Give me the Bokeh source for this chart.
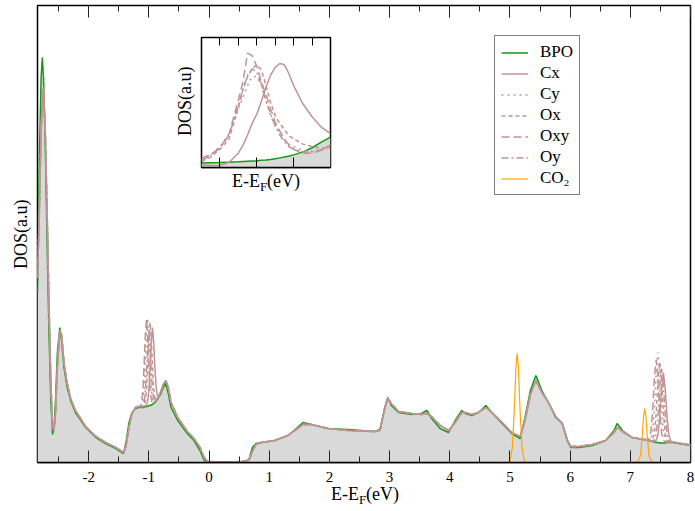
from bokeh.plotting import figure
from bokeh.models import (LinearAxis, SingleIntervalTicker, FixedTicker, Legend, LegendItem,
                          Range1d, GridBox, Div, CustomJSTickFormatter)
from bokeh.embed import file_html
from bokeh.resources import INLINE

# ---------------- main panel data (energy in eV, DOS in arbitrary units) ----------------
seg_a = [-2.85, -2.82, -2.79, -2.77, -2.75, -2.72, -2.69, -2.66, -2.63, -2.60, -2.575, -2.55,
         -2.52, -2.48, -2.45, -2.41, -2.36, -2.30, -2.22, -2.05, -1.88, -1.72, -1.55, -1.42,
         -1.38, -1.33, -1.28, -1.22, -1.18]
seg_b = [-1.14, -1.12, -1.10, -1.08, -1.06, -1.04, -1.02, -1.00, -0.98, -0.96, -0.94, -0.92,
         -0.90, -0.88, -0.86, -0.84]
seg_c = [-0.80, -0.76, -0.72, -0.68, -0.63, -0.52, -0.36, -0.25, -0.15, -0.08, -0.03, 0.30,
         0.55, 0.62, 0.67, 0.72, 0.78, 0.87, 1.09, 1.31, 1.45, 1.56, 1.70, 1.98, 2.31, 2.75,
         2.84, 2.92, 2.97, 3.03, 3.15, 3.37, 3.53, 3.62, 3.70, 3.84, 3.98, 4.09, 4.20, 4.26,
         4.37, 4.48, 4.60, 4.70, 4.87, 5.03, 5.17, 5.25, 5.34, 5.43, 5.53, 5.64, 5.76, 5.87,
         5.95, 6.01, 6.15, 6.37, 6.59, 6.73, 6.78, 6.87, 7.03, 7.22]
seg_d = [7.31, 7.34, 7.37, 7.40, 7.43, 7.46, 7.49, 7.52, 7.55, 7.58, 7.61, 7.64, 7.67, 7.70]
seg_e = [7.80, 8.00]

bpo_a = [17.0, 30.0, 38.5, 40.5, 38.5, 31.5, 22.0, 13.2, 6.5, 2.8, 3.6, 6.3, 11.0, 13.5, 12.2,
         9.5, 7.6, 6.2, 5.0, 3.5, 2.5, 1.9, 1.4, 0.9, 2.0, 4.0, 5.0, 5.4, 5.5]
bpo_b = [5.5, 5.5, 5.5, 5.5, 5.6, 5.6, 5.6, 5.7, 5.7, 5.75, 5.8, 5.9, 6.0, 6.15, 6.3, 6.5]
bpo_c = [6.9, 7.5, 7.9, 7.0, 5.5, 4.2, 2.9, 2.2, 1.2, 0.2, 0.0, 0.0, 0.05, 0.15, 0.4, 1.5, 1.9,
         2.0, 2.2, 2.7, 3.4, 4.0, 3.8, 3.4, 3.3, 3.1, 3.3, 5.5, 6.5, 5.7, 5.0, 4.8, 4.9, 5.2,
         4.4, 3.4, 3.0, 4.2, 5.2, 4.9, 4.7, 5.0, 5.7, 5.0, 3.9, 2.9, 2.4, 4.5, 7.2, 8.7, 7.2,
         6.0, 4.5, 3.9, 2.2, 1.5, 1.5, 1.7, 2.2, 3.2, 3.9, 3.2, 2.5, 2.3]
bpo_d = [2.2, 2.15, 2.1, 2.05, 2.0, 2.0, 1.95, 1.95, 1.95, 1.95, 2.0, 2.0, 2.0, 2.0]
bpo_e = [1.9, 1.7]

# projected curves share the same shape away from the two sharp features
brown_a = [18.5, 25.0, 33.0, 36.5, 37.5, 33.0, 25.0, 16.0, 8.5, 3.5, 3.2, 5.0, 9.5, 13.2, 12.8,
           10.0, 8.0, 6.4, 5.2, 3.6, 2.6, 2.0, 1.5, 1.0, 1.6, 3.5, 4.9, 5.5, 5.6]
brown_c = [7.1, 7.8, 8.2, 7.6, 6.0, 4.5, 3.1, 2.4, 1.5, 0.5, 0.1, 0.05, 0.1, 0.2, 0.3, 1.1, 1.8,
           2.0, 2.2, 2.7, 3.3, 3.8, 3.8, 3.4, 3.2, 3.1, 3.2, 5.4, 6.4, 5.9, 5.1, 4.9, 4.8, 4.9,
           4.6, 3.7, 3.2, 4.0, 5.0, 5.0, 4.8, 5.0, 5.5, 5.0, 4.0, 3.0, 2.6, 4.2, 6.8, 8.2, 7.0,
           6.0, 4.6, 3.9, 2.3, 1.6, 1.6, 1.8, 2.2, 3.0, 3.5, 3.1, 2.5, 2.3]
brown_e = [1.95, 1.75]

cx_b = [5.6, 5.6, 5.6, 5.6, 5.7, 5.7, 6.1, 7.2, 9.2, 11.9, 13.5, 12.1, 9.5, 7.6, 6.8, 6.6]
cy_b = [5.6, 5.6, 6.1, 7.1, 9.6, 12.7, 14.4, 12.8, 9.7, 7.4, 6.4, 6.0, 6.1, 6.25, 6.4, 6.6]
ox_b = [5.6, 5.6, 5.6, 5.6, 6.1, 7.1, 9.4, 12.4, 14.0, 12.4, 9.6, 7.4, 6.5, 6.25, 6.4, 6.6]
oxy_b = [5.6, 6.1, 7.1, 9.5, 12.6, 14.3, 12.6, 9.7, 7.3, 6.35, 5.9, 6.0, 6.1, 6.25, 6.4, 6.6]
oy_b = [5.6, 5.6, 5.6, 6.0, 7.0, 9.0, 11.6, 13.2, 11.7, 9.2, 7.2, 6.4, 6.1, 6.25, 6.4, 6.6]

cx_d = [2.2, 2.2, 2.15, 2.15, 2.2, 2.8, 4.6, 7.4, 9.0, 7.35, 4.55, 2.75, 2.15, 2.05]
cy_d = [2.2, 2.3, 3.05, 5.35, 8.95, 11.0, 8.95, 5.3, 3.0, 2.2, 2.05, 2.05, 2.05, 2.05]
ox_d = [2.2, 2.2, 2.3, 2.95, 4.95, 8.2, 10.0, 8.2, 4.95, 2.85, 2.2, 2.05, 2.05, 2.05]
oxy_d = [2.35, 3.0, 5.1, 8.5, 10.3, 8.4, 5.1, 2.9, 2.25, 2.05, 2.05, 2.05, 2.05, 2.05]
oy_d = [2.2, 2.2, 2.15, 2.25, 2.85, 4.7, 7.7, 9.4, 7.7, 4.7, 2.8, 2.15, 2.05, 2.05]

co2_energy = [-2.85, 4.95, 5.00, 5.04, 5.07, 5.10, 5.12, 5.14, 5.17, 5.20, 5.24, 5.30, 7.08,
              7.13, 7.17, 7.20, 7.22, 7.24, 7.26, 7.28, 7.31, 7.35, 7.40, 8.00]
co2_dos = [0.0, 0.0, 0.1, 1.5, 5.0, 9.6, 10.9, 9.6, 5.0, 1.5, 0.1, 0.0, 0.0, 0.1, 0.7, 2.8, 4.6,
           5.4, 4.6, 2.8, 0.7, 0.1, 0.0, 0.0]

tick_labels = {-2: "-2", -1: "-1", 0: "0", 1: "1", 2: "2", 3: "3", 4: "4", 5: "5", 6: "6",
               7: "7", 8: "8"}

# ---------------- inset data ----------------
inset_x = [0.0, 0.5, 1.0, 1.5, 2.0, 2.25, 2.5, 2.75, 3.0, 3.25, 3.5, 3.75, 4.0, 4.25, 4.5, 4.75,
           5.0, 5.5, 6.0, 6.5, 7.0]
inset_bpo = [0.34, 0.36, 0.38, 0.41, 0.44, 0.46, 0.48, 0.5, 0.51, 0.55, 0.58, 0.62, 0.68, 0.74,
             0.8, 0.88, 0.97, 1.2, 1.52, 1.95, 2.33]
inset_cx = [0.2, 0.15, 0.18, 0.4, 1.1, 1.7, 2.5, 3.4, 4.1, 5.1, 6.2, 7.1, 7.7, 8.0, 7.9, 7.2,
            6.3, 4.9, 3.9, 3.1, 2.6]
inset_cy = [0.6, 1.0, 1.6, 2.6, 4.5, 5.4, 6.3, 7.0, 7.0, 6.3, 5.1, 4.0, 3.2, 2.6, 2.1, 1.8, 1.6,
            1.3, 1.25, 1.4, 1.6]
inset_ox = [0.47, 0.8, 1.4, 2.2, 4.6, 6.0, 7.0, 7.6, 7.9, 7.5, 6.3, 5.0, 4.0, 3.4, 2.9, 2.45,
            2.2, 1.8, 1.6, 1.5, 1.5]
inset_oxy = [0.72, 1.0, 1.5, 2.6, 5.2, 6.6, 8.8, 8.6, 7.8, 6.6, 5.6, 4.5, 3.5, 2.8, 2.2, 1.7,
             1.4, 1.1, 1.1, 1.35, 1.74]
inset_oy = [0.55, 0.9, 1.5, 2.5, 4.8, 6.0, 7.1, 7.6, 7.3, 6.4, 5.2, 4.1, 3.2, 2.5, 2.0, 1.6,
            1.4, 1.2, 1.2, 1.35, 1.6]

# ---------------- assemble ----------------
energy = seg_a + seg_b + seg_c + seg_d + seg_e
bpo = bpo_a + bpo_b + bpo_c + bpo_d + bpo_e
series = {
    "Cx": brown_a + cx_b + brown_c + cx_d + brown_e,
    "Cy": brown_a + cy_b + brown_c + cy_d + brown_e,
    "Ox": brown_a + ox_b + brown_c + ox_d + brown_e,
    "Oxy": brown_a + oxy_b + brown_c + oxy_d + brown_e,
    "Oy": brown_a + oy_b + brown_c + oy_d + brown_e,
}
assert len(energy) == len(bpo)
for k, v in series.items():
    assert len(v) == len(energy), k
assert len(co2_energy) == len(co2_dos)

GREEN = "#129a12"
BROWN = "#bf9494"
ORANGE = "#ffa500"
FILL = "#d9d9d9"
SERIF = "Liberation Serif"
dashes = {"Cx": "solid", "Cy": "2 4", "Ox": "4 3", "Oxy": "8 4", "Oy": "7 3 2 3"}
blank = CustomJSTickFormatter(code="return ''")

# shared borders so the two overlaid plots keep their own frame positions
BORDERS = dict(min_border_left=37, min_border_right=5, min_border_top=5, min_border_bottom=49)

p = figure(frame_width=653, frame_height=457, output_backend="svg", toolbar_location=None,
           x_range=Range1d(-2.85, 8.0), y_range=Range1d(0, 45.7), **BORDERS)
p.xgrid.visible = False
p.ygrid.visible = False
p.yaxis.visible = False
p.outline_line_color = "black"
p.outline_line_width = 1.5
p.background_fill_color = "white"
p.border_fill_color = "white"

xa = p.xaxis[0]
xa.ticker = SingleIntervalTicker(interval=1, num_minor_ticks=2)
xa.major_tick_in = 12
xa.major_tick_out = 0
xa.minor_tick_in = 6
xa.minor_tick_out = 0
xa.major_tick_line_color = "#222222"
xa.minor_tick_line_color = "#222222"
xa.axis_line_width = 1.5
xa.major_label_text_font = SERIF
xa.major_label_text_font_size = "15px"
xa.major_label_text_color = "black"
xa.major_label_standoff = 9
xa.major_label_overrides = tick_labels

top = LinearAxis(ticker=SingleIntervalTicker(interval=1, num_minor_ticks=2), formatter=blank,
                 major_tick_in=12, major_tick_out=0, minor_tick_in=6, minor_tick_out=0,
                 major_label_text_font_size="1px", major_label_standoff=0,
                 axis_line_color=None, major_tick_line_color="#222222",
                 minor_tick_line_color="#222222")
p.add_layout(top, "above")

p.varea(x=energy, y1=0, y2=bpo, fill_color=FILL)
r_bpo = p.line(energy, bpo, line_color=GREEN, line_width=1.5)
renderers = {}
for name in ["Cx", "Cy", "Ox", "Oxy", "Oy"]:
    renderers[name] = p.line(energy, series[name], line_color=BROWN, line_width=1.5,
                             line_dash=dashes[name])
r_co2 = p.line(co2_energy, co2_dos, line_color=ORANGE, line_width=1.2)

items = [LegendItem(label="BPO", renderers=[r_bpo])]
for name in ["Cx", "Cy", "Ox", "Oxy", "Oy"]:
    items.append(LegendItem(label=name, renderers=[renderers[name]]))
items.append(LegendItem(label="CO\u2082", renderers=[r_co2]))
legend = Legend(items=items, location=(457, 267), border_line_color="black",
                border_line_width=1.5, background_fill_color="white", background_fill_alpha=1,
                padding=6, spacing=1, margin=0, glyph_height=17, glyph_width=27,
                label_height=17, label_standoff=12, label_text_font=SERIF,
                label_text_font_size="17px", label_text_color="black")
p.add_layout(legend)

# ---------------- inset ----------------
inset = figure(frame_width=129, frame_height=130, output_backend="svg", toolbar_location=None,
               x_range=Range1d(0, 7), y_range=Range1d(0, 10), **BORDERS)
inset.margin = (32, 0, 0, 164)
inset.xgrid.visible = False
inset.ygrid.visible = False
inset.yaxis.visible = False
inset.outline_line_color = "black"
inset.outline_line_width = 1.5
inset.background_fill_color = "white"
inset.border_fill_alpha = 0
ia = inset.xaxis[0]
ia.ticker = FixedTicker(ticks=[1, 3, 5], minor_ticks=[])
ia.formatter = blank
ia.major_tick_in = 10
ia.major_tick_out = 0
ia.minor_tick_in = 0
ia.minor_tick_out = 0
ia.major_label_text_font_size = "1px"
ia.major_label_standoff = 0
ia.axis_line_width = 1.5
itop = LinearAxis(ticker=FixedTicker(ticks=[1, 2, 3, 4, 5, 6], minor_ticks=[]), formatter=blank,
                  major_tick_in=8, major_tick_out=0, minor_tick_in=0, minor_tick_out=0,
                  major_label_text_font_size="1px", major_label_standoff=0,
                  axis_line_color=None)
inset.add_layout(itop, "above")

inset.varea(x=inset_x, y1=0, y2=inset_bpo, fill_color=FILL)
inset.line(inset_x, inset_bpo, line_color=GREEN, line_width=1.5)
inset.line(inset_x, inset_cx, line_color=BROWN, line_width=1.5, line_dash=dashes["Cx"])
inset.line(inset_x, inset_cy, line_color=BROWN, line_width=1.5, line_dash=dashes["Cy"])
inset.line(inset_x, inset_ox, line_color=BROWN, line_width=1.5, line_dash=dashes["Ox"])
inset.line(inset_x, inset_oxy, line_color=BROWN, line_width=1.5, line_dash=dashes["Oxy"])
inset.line(inset_x, inset_oy, line_color=BROWN, line_width=1.5, line_dash=dashes["Oy"])

# ---------------- axis titles (HTML text, with subscript) ----------------
XLABEL = ('E-E<span style="font-size:13px;position:relative;top:4px">F</span>(eV)')
YLABEL = "DOS(a.u)"
base_style = {"font-family": SERIF, "font-size": "18px", "line-height": "20px",
              "color": "black"}

def xlabel_div(cx, top_y):
    return Div(text=XLABEL, width=120, height=24, margin=(top_y, 0, 0, cx - 60),
               styles=dict(base_style, **{"text-align": "center"}))

def ylabel_div(cx, cy):
    return Div(text=YLABEL, width=22, height=80, margin=(cy - 40, 0, 0, cx - 11),
               styles=dict(base_style, **{"writing-mode": "vertical-rl",
                                          "transform": "rotate(180deg)",
                                          "text-align": "center"}))

layout = GridBox(children=[
    (p, 0, 0),
    (inset, 0, 0),
    (xlabel_div(365, 484), 0, 0),
    (ylabel_div(22, 234), 0, 0),
    (xlabel_div(266, 171), 0, 0),
    (ylabel_div(186, 101), 0, 0),
])

open("out.html", "w").write(file_html(layout, INLINE))
